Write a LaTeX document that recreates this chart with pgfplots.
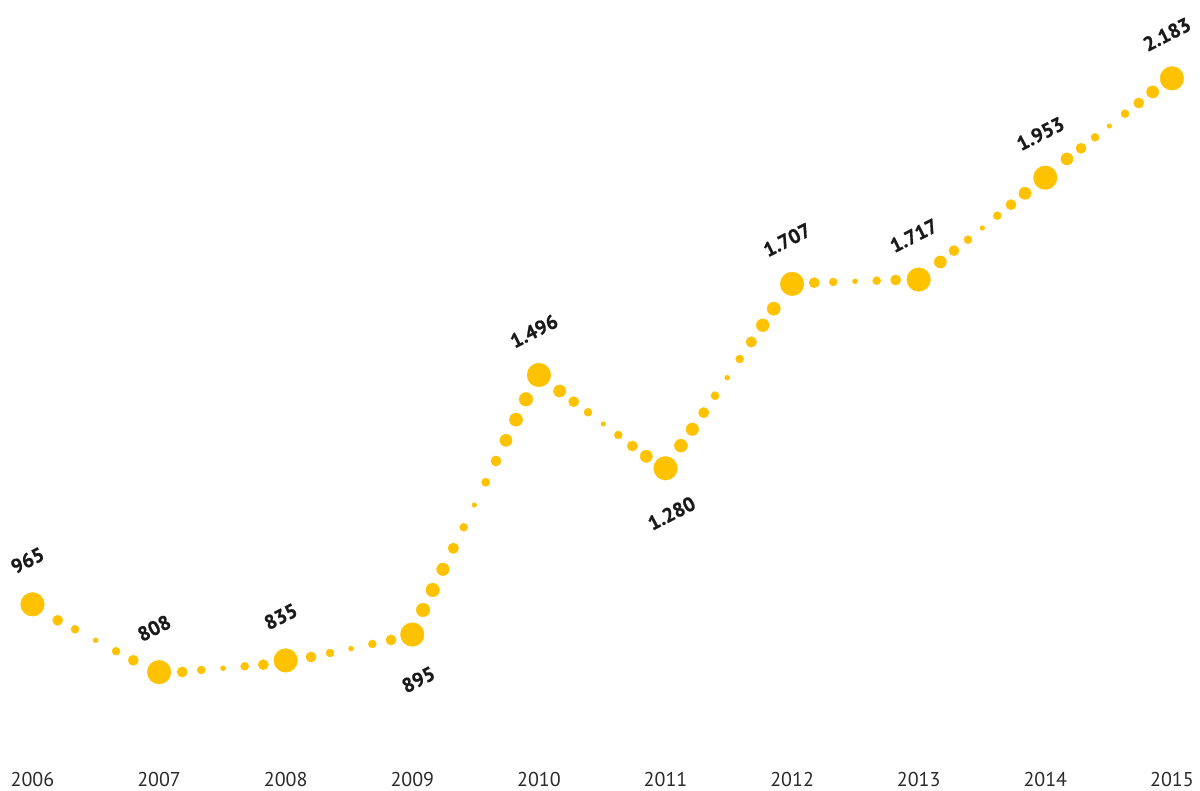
\documentclass[border=0pt]{standalone}
\usepackage{pgfplots}
\pgfplotsset{compat=1.18}
\usepackage{pgfplotstable}
\usepackage{fontspec}
\setmainfont{PT Sans}
\newfontfamily\labfont[FakeBold=0.9]{PT Sans Bold}
\definecolor{dotc}{HTML}{FFC200}
\definecolor{labc}{HTML}{1A1A1A}
\definecolor{yearc}{HTML}{2A2A2A}

\pgfplotstableread{
x y r
2006.199 928.0 5.1
2006.336 907.2 4.0
2006.499 881.7 2.5
2006.660 856.3 4.0
2006.796 835.4 5.1
2007.183 808.3 5.1
2007.333 812.9 4.0
2007.505 816.9 2.5
2007.676 821.5 4.0
2007.823 825.2 5.1
2008.200 843.0 5.1
2008.350 852.3 4.0
2008.516 862.3 2.5
2008.684 873.2 4.0
2008.832 882.4 5.1
2009.085 951.9 6.8
2009.161 998.2 6.8
2009.242 1046.1 6.3
2009.324 1094.7 5.3
2009.406 1143.4 4.0
2009.490 1195.0 2.3
2009.580 1247.6 4.1
2009.661 1296.9 5.1
2009.740 1344.8 6.1
2009.819 1392.6 6.6
2009.898 1439.8 6.8
2010.164 1459.0 6.1
2010.275 1434.2 5.1
2010.388 1409.7 4.0
2010.509 1382.6 2.3
2010.627 1357.1 4.0
2010.738 1331.6 5.1
2010.848 1307.8 6.1
2011.122 1332.3 6.5
2011.212 1370.3 6.3
2011.302 1408.8 5.2
2011.391 1448.1 4.1
2011.488 1489.8 2.5
2011.586 1533.1 4.0
2011.678 1572.5 5.3
2011.768 1611.1 6.4
2011.855 1649.6 6.6
2012.175 1709.8 5.1
2012.325 1711.4 4.0
2012.497 1713.0 2.5
2012.668 1714.4 4.0
2012.818 1716.0 5.1
2013.171 1757.7 6.1
2013.279 1783.9 5.1
2013.389 1809.3 4.0
2013.502 1836.4 2.3
2013.621 1864.9 4.0
2013.729 1890.4 5.1
2013.840 1916.8 6.1
2014.171 1996.2 6.1
2014.282 2021.0 5.1
2014.393 2046.5 4.0
2014.506 2072.6 2.3
2014.630 2101.1 4.0
2014.738 2125.9 5.1
2014.848 2151.4 6.1
}\smalldots

\pgfplotstableread{
x y label
2006 965 965
2007 808 808
2008 835 835
2010 1496 1.496
2012 1707 1.707
2013 1717 1.717
2014 1953 1.953
2015 2183 2.183
}\above

\pgfplotstableread{
x y label
2009 895 895
2011 1280 1.280
}\below

\begin{document}
\begin{tikzpicture}
\begin{axis}[
  scale only axis,
  width=1200pt, height=791pt,
  xmin=2005.7433, xmax=2015.222,
  ymin=532.7, ymax=2364.4,
  clip=false,
  axis line style={draw=none},
  tick style={draw=none},
  ytick=\empty,
  xtick={2006,2007,2008,2009,2010,2011,2012,2013,2014,2015},
  xticklabels={2006,2007,2008,2009,2010,2011,2012,2013,2014,2015},
  xticklabel style={font=\fontsize{20}{24}\selectfont, text=yearc, anchor=base, yshift=4.3pt, inner sep=0pt},
]
\addplot[scatter, only marks, mark=*,
  scatter/use mapped color={draw=dotc, fill=dotc},
  visualization depends on={\thisrow{r} \as \dotr},
  scatter/@pre marker code/.append style={/tikz/mark size=\dotr},
  ] table[x=x, y=y] {\smalldots};
\addplot[only marks, mark=*, mark size=11.8pt, color=dotc,
  point meta=explicit symbolic,
  nodes near coords,
  nodes near coords style={font=\fontsize{20}{24}\selectfont\labfont, text=labc,
     xshift=-5pt, yshift=44pt, rotate=27, anchor=center, inner sep=0pt},
  ] table[x=x, y=y, meta=label] {\above};
\addplot[only marks, mark=*, mark size=11.8pt, color=dotc,
  point meta=explicit symbolic,
  nodes near coords,
  nodes near coords style={font=\fontsize{20}{24}\selectfont\labfont, text=labc,
     xshift=6pt, yshift=-45pt, rotate=27, anchor=center, inner sep=0pt},
  ] table[x=x, y=y, meta=label] {\below};
\end{axis}
\pgfresetboundingbox
\path[use as bounding box] (current axis.south west) rectangle (current axis.north east);
\end{tikzpicture}
\end{document}
